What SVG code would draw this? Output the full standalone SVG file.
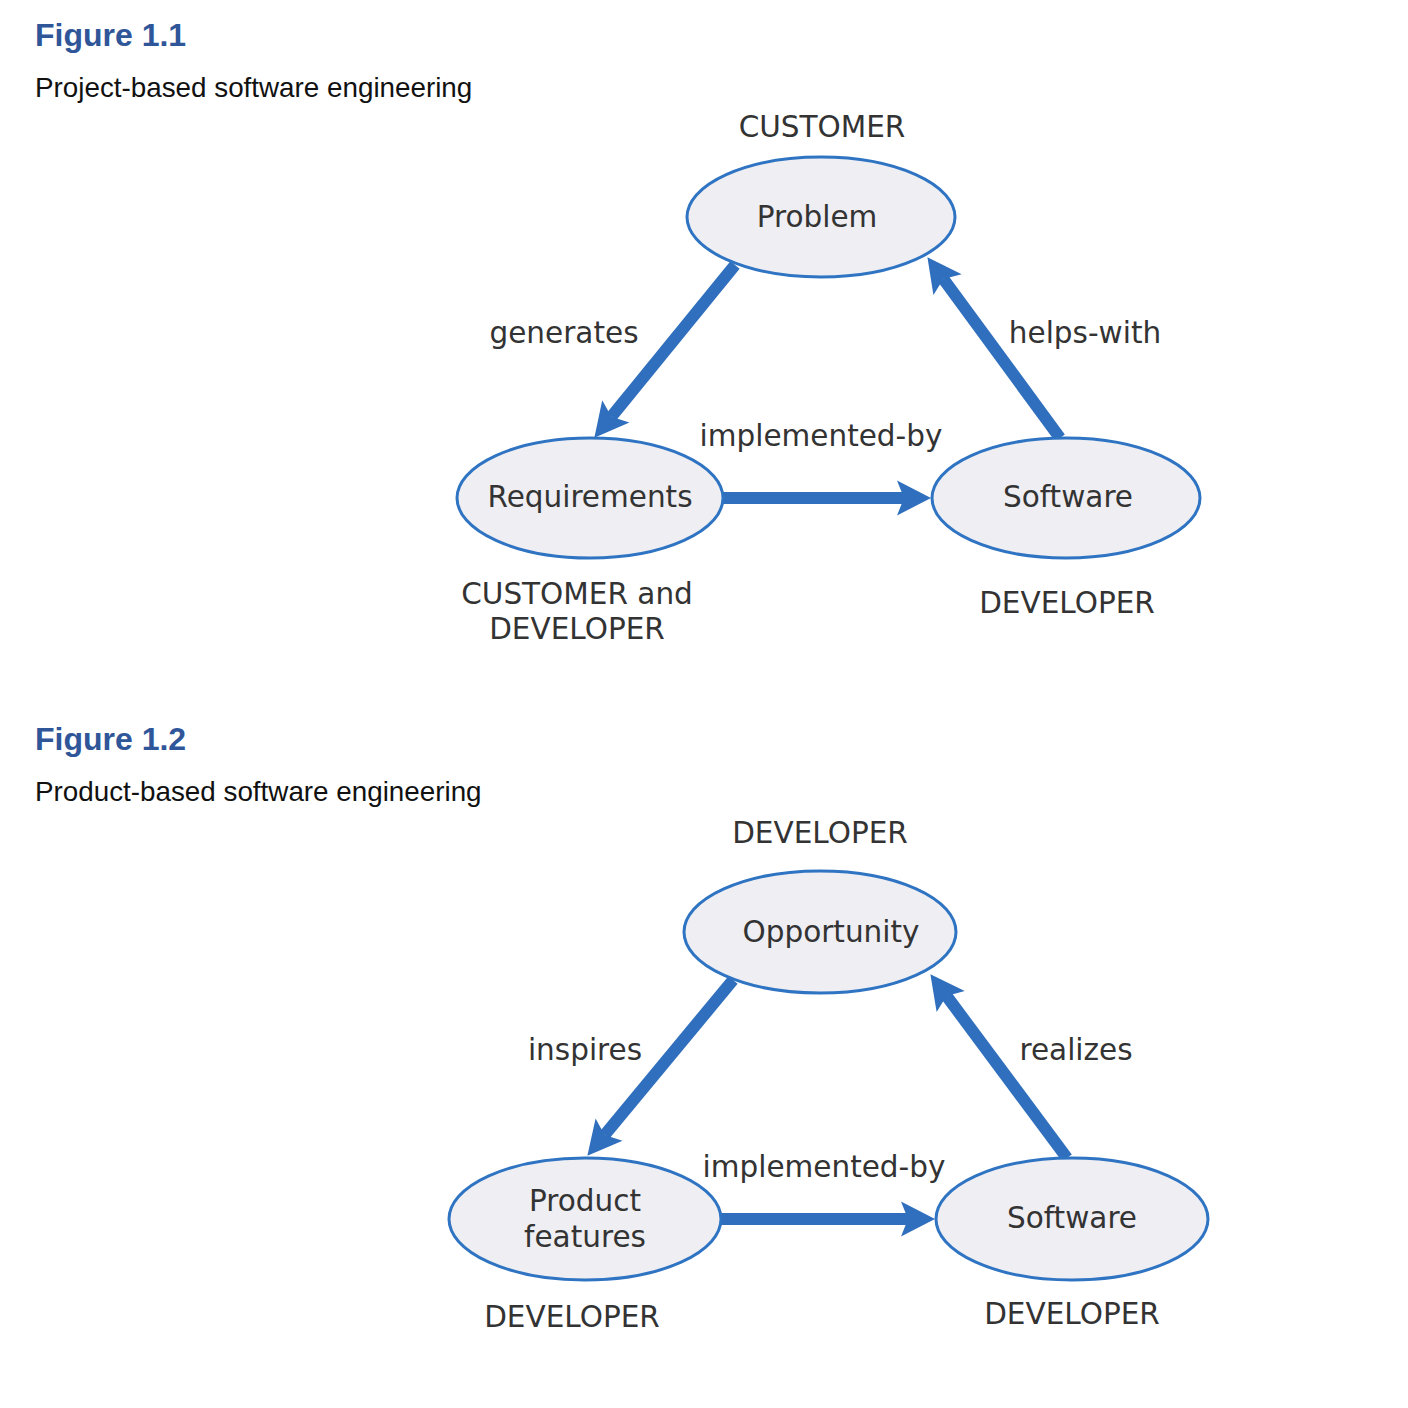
<svg xmlns="http://www.w3.org/2000/svg" width="1408" height="1408" viewBox="0 0 1408 1408">
<style>
.title{font-family:"Liberation Sans",Arial,sans-serif;font-weight:bold;font-size:32px;fill:#30569a}
.sub{font-family:"Liberation Sans",Arial,sans-serif;font-size:27.8px;fill:#111}
.node{fill:#eeeef3;stroke:#2f74c2;stroke-width:3}
.t{font-family:"DejaVu Sans",Verdana,sans-serif;font-size:29.5px;fill:#333;text-anchor:middle}
.conn{stroke:#2f6fbd;stroke-width:12;fill:none;marker-end:url(#ah)}
</style>
<defs>
<marker id="ah" markerUnits="userSpaceOnUse" markerWidth="40" markerHeight="40" viewBox="0 0 40 36" refX="10" refY="18" orient="auto">
<path d="M37,18 L3,0.5 L10,18 L3,35.5 Z" fill="#2f6fbd"/>
</marker>
</defs>
<rect width="1408" height="1408" fill="#ffffff"/>

<text class="title" x="35" y="46">Figure 1.1</text>
<text class="sub" x="35" y="97">Project-based software engineering</text>

<g id="connectors1">
<line class="conn" x1="735" y1="265" x2="611.4" y2="416.8"/>
<line class="conn" x1="1060" y1="438" x2="943.4" y2="279"/>
<line class="conn" x1="723" y1="498" x2="904" y2="498"/>
<text class="t" x="564" y="343">generates</text>
<text class="t" x="1085" y="343">helps-with</text>
<text class="t" x="821" y="446">implemented-by</text>
</g>

<g id="problem">
<ellipse class="node" cx="821" cy="217" rx="134" ry="60"/>
<text class="t" x="817" y="227">Problem</text>
<text class="t" x="822" y="137">CUSTOMER</text>
</g>
<g id="requirements">
<ellipse class="node" cx="590" cy="498" rx="133" ry="60"/>
<text class="t" x="590" y="507">Requirements</text>
<text class="t" x="577" y="604">CUSTOMER and</text>
<text class="t" x="577" y="639">DEVELOPER</text>
</g>
<g id="software1">
<ellipse class="node" cx="1066" cy="498" rx="134" ry="60"/>
<text class="t" x="1068" y="507">Software</text>
<text class="t" x="1067" y="613">DEVELOPER</text>
</g>

<text class="title" x="35" y="750">Figure 1.2</text>
<text class="sub" x="35" y="801">Product-based software engineering</text>

<g id="connectors2">
<line class="conn" x1="733" y1="980" x2="604.6" y2="1135"/>
<line class="conn" x1="1067" y1="1158" x2="946.5" y2="995.9"/>
<line class="conn" x1="721" y1="1219" x2="908" y2="1219"/>
<text class="t" x="585" y="1060">inspires</text>
<text class="t" x="1076" y="1060">realizes</text>
<text class="t" x="824" y="1177">implemented-by</text>
</g>

<g id="opportunity">
<ellipse class="node" cx="820" cy="932" rx="136" ry="61"/>
<text class="t" x="831" y="942">Opportunity</text>
<text class="t" x="820" y="843">DEVELOPER</text>
</g>
<g id="features">
<ellipse class="node" cx="585" cy="1219" rx="136" ry="61"/>
<text class="t" x="585" y="1211">Product</text>
<text class="t" x="585" y="1247">features</text>
<text class="t" x="572" y="1327">DEVELOPER</text>
</g>
<g id="software2">
<ellipse class="node" cx="1072" cy="1219" rx="136" ry="61"/>
<text class="t" x="1072" y="1228">Software</text>
<text class="t" x="1072" y="1324">DEVELOPER</text>
</g>
</svg>
